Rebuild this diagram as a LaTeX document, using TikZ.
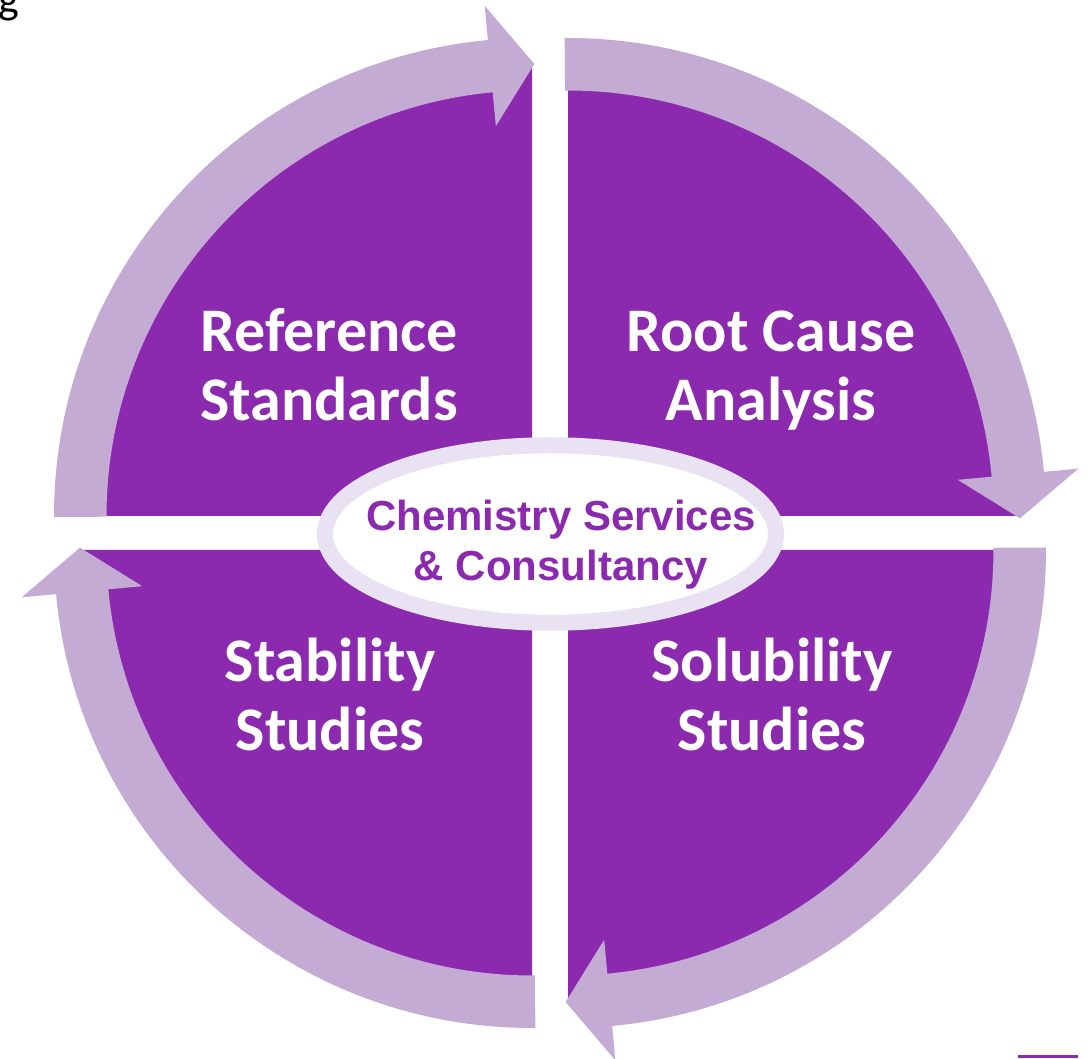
\documentclass[tikz,border=0pt]{standalone}
\usepackage{fontspec}
\setmainfont{Carlito}
\newfontfamily\arialfont{Liberation Sans}
\usepackage{tikz}
\definecolor{quadpurple}{RGB}{139,42,175}
\definecolor{bandlilac}{RGB}{196,171,212}
\definecolor{ringlilac}{RGB}{233,226,243}

\begin{document}
\begin{tikzpicture}[x=1pt,y=1pt]
\tikzstyle{quad}=[fill=quadpurple]
\tikzstyle{band}=[fill=bandlilac]
\tikzstyle{quadtext}=[text=white,align=center,inner sep=0pt,anchor=base,font=\bfseries\fontsize{62}{69}\selectfont]
\tikzstyle{hubtext}=[text=quadpurple,align=center,inner sep=0pt,anchor=base,font=\arialfont\bfseries\fontsize{42}{50}\selectfont]
\useasboundingbox (0,0) rectangle (1089,1058);
\fill[white] (0,0) rectangle (1089,1058);

% corners of the four quarters
\coordinate (TL) at (532,542);
\coordinate (TR) at (568,542);
\coordinate (BL) at (532,508);
\coordinate (BR) at (568,508);

% Quarter discs
\fill[quad] (TL) -- ++(180:450) arc[start angle=180,end angle=90,radius=450] -- cycle;
\fill[quad] (TR) -- ++(90:450) arc[start angle=90,end angle=0,radius=450] -- cycle;
\fill[quad] (BR) -- ++(0:450) arc[start angle=0,end angle=-90,radius=450] -- cycle;
\fill[quad] (BL) -- ++(-90:450) arc[start angle=-90,end angle=-180,radius=450] -- cycle;

% Arrows around the quarters
\fill[band,shift={(TL)}] (180.1:478) arc[start angle=180.1,end angle=95.3,radius=478] -- (95.3:512.5) -- (89.7:452) -- (95.3:391.5) -- (95.3:425.5) arc[start angle=95.3,end angle=180.1,radius=425.5] -- cycle;
\fill[band,shift={(TR)}] (90.4:478) arc[start angle=90.4,end angle=5.3,radius=478] -- (5.3:512.5) -- (-0.3:452) -- (5.3:391.5) -- (5.3:425.5) arc[start angle=5.3,end angle=90.4,radius=425.5] -- cycle;
\fill[band,shift={(BR)}] (0.3:478) arc[start angle=0.3,end angle=-84.7,radius=478] -- (-84.7:512.5) -- (-90.3:452) -- (-84.7:391.5) -- (-84.7:425.5) arc[start angle=-84.7,end angle=0.3,radius=425.5] -- cycle;
\fill[band,shift={(BL)}] (-89.6:478) arc[start angle=-89.6,end angle=-174.7,radius=478] -- (-174.7:512.5) -- (-180.3:452) -- (-174.7:391.5) -- (-174.7:425.5) arc[start angle=-174.7,end angle=-89.6,radius=425.5] -- cycle;

% Hub
\filldraw[fill=white,draw=ringlilac,line width=16pt] (550.5,524) ellipse [x radius=225.5,y radius=88.75];

% Labels (base = last line)
\node (RS) [quadtext] at (329,637) {Reference\\Standards};
\node (RCA) [quadtext] at (771,637) {Root Cause\\Analysis};
\node (StS) [quadtext] at (330,308) {Stability\\Studies};
\node (SoS) [quadtext] at (772,308) {Solubility\\Studies};
\node (CSC) [hubtext] at (561,477) {Chemistry Services\\\& Consultancy};

% leftovers at the edges
\node (g) [anchor=base west,inner sep=0pt,font=\fontsize{44}{52}\selectfont] at (-2,1044) {g};
\fill[quadpurple] (1018,0) rectangle (1078,3);
\end{tikzpicture}
\end{document}
